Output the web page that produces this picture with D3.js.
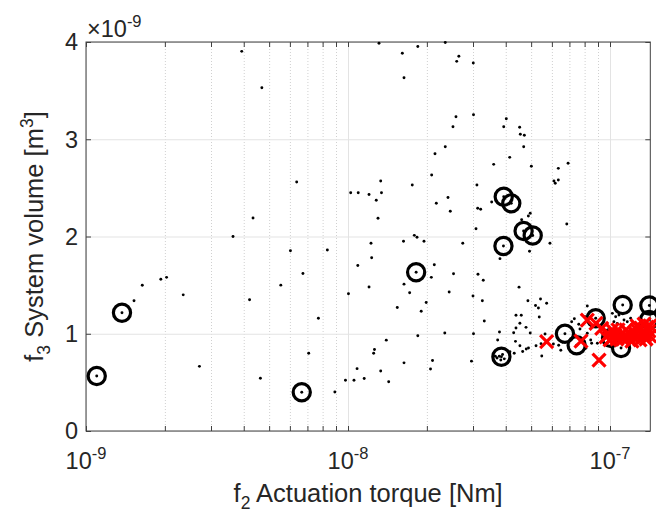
<!DOCTYPE html>
<html>
<head>
<meta charset="utf-8">
<script src="https://cdn.jsdelivr.net/npm/d3@7"></script>
<style>
  body { margin: 0; background: #fff; }
  svg { display: block; font-family: "Liberation Sans", Arial, sans-serif; }
</style>
</head>
<body>
<svg id="chart"></svg>
<script>
// torque in 1e-9 Nm, volume in 1e-9 m^3
const dotTorque = [1.525,1.64,1.93,2.03,2.35,2.71,3.64,3.93,4.21,4.34,4.63,4.69,5.54,6.03,6.37,6.73,7.08,7.71,8.34,8.91,
  9.78,10.04,10.24,10.54,10.83,10.90,10.94,11.53,12.03,12.03,12.24,12.31,12.53,12.62,12.82,13.02,13.13,13.33,13.42,13.33,
  14.0,14.3,15.42,16.12,16.29,16.36,16.36,16.36,17.19,17.59,17.91,18.34,18.47,18.47,19.03,19.5,19.88,20.65,20.8,20.86,
  21.02,21.35,21.48,21.73,23.41,23.51,23.51,24.08,24.33,24.57,25.16,25.28,25.83,26.0,26.49,27.42,29.6,30.0,30.07,30.13,
  30.13,30.8,31.05,31.26,31.34,32.09,32.57,32.83,33.13,35.35,35.98,37.26,37.86,38.02,39.3,40.2,41.42,41.5,42.89,43.1,
  43.57,43.77,43.77,44.96,45.2,45.3,45.3,45.47,45.85,46.42,46.84,47.1,47.8,47.9,48.6,48.85,48.8,49.3,49.6,49.6,
  50.1,51.97,52.2,53.3,53.7,54.3,54.55,54.9,56.5,57.3,59.0,61.1,61.8,63.5,63.5,68.4,69.2,60.8,63.7,64.9,
  65.97,71.4,73.1,76.0,76.8,81.9,102.1,105.1,108.2,113.1,116.4,119.9,103.5,106.6,125.3,81.9,84.4,89.5,80.8,80.3,
  85.1,37.8,38.9,37.05,38.3,39.5,36.5,46.0];
const dotVolume = [1.34,1.498,1.56,1.58,1.40,0.665,2.00,3.904,1.349,2.19,0.542,3.53,1.50,1.853,2.56,1.62,0.80,1.159,1.861,0.401,
  0.522,1.412,2.45,0.522,0.641,1.702,2.45,0.54,2.432,1.481,1.93,1.781,0.80,0.838,2.372,2.188,3.987,2.571,2.45,0.617,
  0.934,0.506,1.27,3.884,1.951,3.633,1.51,0.701,1.421,2.53,2.012,1.992,3.954,0.98,1.231,1.951,1.321,0.638,1.58,2.632,
  0.725,1.71,2.851,2.342,1.008,2.923,3.995,2.401,1.429,2.26,3.129,1.617,3.232,3.801,3.854,1.93,0.718,1.388,3.784,3.252,
  1.0,2.08,2.53,2.29,1.612,2.28,1.339,1.55,1.131,2.355,2.742,0.936,1.018,1.772,3.129,3.211,2.814,0.815,1.01,0.799,
  0.922,1.19,1.059,1.479,3.123,1.108,0.877,3.051,1.19,0.817,2.923,3.041,1.066,0.843,1.34,0.853,2.211,1.849,2.239,1.008,
  2.722,1.29,0.877,1.265,1.172,1.357,0.898,0.771,0.997,1.313,1.93,2.571,2.547,2.701,2.581,2.129,2.753,0.895,0.881,0.83,
  0.912,1.124,1.155,1.097,1.049,1.285,1.21,1.175,1.193,1.141,1.124,1.159,1.124,1.107,1.107,1.005,0.936,0.902,0.85,1.175,
  0.902,0.768,0.787,0.751,0.73,0.742,0.768,2.173];

const circleTorque = [1.099,1.372,6.66,18.2,39.3,42.0,46.8,50.7,39.2,38.5,67.3,74.6,88.2,111.8,141.3,140.9,100.9,110.2];
const circleVolume = [0.566,1.216,0.398,1.632,2.409,2.341,2.057,2.010,1.902,0.764,1.0,0.882,1.159,1.296,1.29,1.141,0.956,0.853];

const crossTorque = [57.3,77.5,81.9,88.4,93.0,90.8,96.6,99.1,101.8,104.5,106.3,109.2,112.1,114.1,117.1,119.2,122.4,124.6,
  126.8,129.0,131.3,133.6,136.0,138.4,140.9,141.8,115.1,107.3,100.0,121.3,130.2,137.2,101.8,126.8,134.9,142.2];
const crossVolume = [0.918,0.925,1.141,1.107,1.056,0.730,0.967,0.997,0.956,0.987,0.946,0.977,0.946,0.987,0.956,0.997,0.967,1.008,
  1.039,0.977,1.059,1.018,0.987,1.069,1.028,0.977,1.039,1.039,0.936,0.925,0.936,0.946,1.039,1.080,1.100,1.080];

const xMajor = [1, 10, 100];
const xMajorExp = ["-9", "-8", "-7"];
const yTicks = [0, 1, 2, 3, 4];

const W = 656, H = 518;
const margin = { top: 42, right: 5.7, bottom: 87, left: 86 };
const width = W - margin.left - margin.right;
const height = H - margin.top - margin.bottom;
const textColor = "#262626";

const svg = d3.select("#chart").attr("width", W).attr("height", H);
const g = svg.append("g").attr("transform", `translate(${margin.left},${margin.top})`);

const x = d3.scaleLog().domain([1, 142.5]).range([0, width]);
const y = d3.scaleLinear().domain([0, 4]).range([height, 0]);

// minor x values 2..9 in every decade
const xMinor = [];
[1, 10, 100].forEach(d => {
  for (let k = 2; k <= 9; k++) if (k * d <= 142.5) xMinor.push(k * d);
});

// grid
g.append("g")
  .attr("transform", `translate(0,${height})`)
  .call(d3.axisBottom(x).tickValues(xMinor).tickSize(-height).tickFormat(""))
  .call(s => s.select(".domain").remove())
  .selectAll("line").attr("stroke", "#d0d0d0").attr("stroke-dasharray", "1,2");
g.append("g")
  .attr("transform", `translate(0,${height})`)
  .call(d3.axisBottom(x).tickValues(xMajor).tickSize(-height).tickFormat(""))
  .call(s => s.select(".domain").remove())
  .selectAll("line").attr("stroke", "#e3e3e3");
g.append("g")
  .call(d3.axisLeft(y).tickValues(yTicks).tickSize(-width).tickFormat(""))
  .call(s => s.select(".domain").remove())
  .selectAll("line").attr("stroke", "#e3e3e3");

// inward ticks on all four sides
function ticks(axis, tr) {
  g.append("g")
    .attr("transform", tr)
    .call(axis.tickSizeOuter(0).tickFormat(""))
    .call(s => s.select(".domain").remove())
    .selectAll("line").attr("stroke", "#404040");
}
ticks(d3.axisBottom(x).tickValues(xMajor.concat(xMinor)).tickSizeInner(-5), `translate(0,${height})`);
ticks(d3.axisTop(x).tickValues(xMajor.concat(xMinor)).tickSizeInner(-5), "translate(0,0)");
ticks(d3.axisLeft(y).tickValues(yTicks).tickSizeInner(-5), "translate(0,0)");
ticks(d3.axisRight(y).tickValues(yTicks).tickSizeInner(-5), `translate(${width},0)`);

g.append("rect")
  .attr("width", width).attr("height", height)
  .attr("fill", "none").attr("stroke", "#404040").attr("stroke-width", 1);

// tick labels
const xl = g.append("g").selectAll("text").data(xMajor).enter().append("text")
  .attr("x", d => x(d)).attr("y", height + 38)
  .attr("text-anchor", "middle").attr("fill", textColor).attr("font-size", 23.5);
xl.append("tspan").text("10");
xl.append("tspan").attr("dy", -10).attr("font-size", 16.5).text((d, i) => xMajorExp[i]);

g.append("g").selectAll("text").data(yTicks).enter().append("text")
  .attr("x", -8).attr("y", d => y(d)).attr("dy", "0.36em")
  .attr("text-anchor", "end").attr("fill", textColor).attr("font-size", 23.5)
  .text(d => d);

const ex = g.append("text").attr("x", 1).attr("y", -5.5).attr("fill", textColor).attr("font-size", 23.5);
ex.append("tspan").text("\u00d710");
ex.append("tspan").attr("dy", -10).attr("font-size", 16.5).text("-9");

// axis labels
const xt = g.append("text")
  .attr("x", width / 2).attr("y", height + 71)
  .attr("text-anchor", "middle").attr("fill", textColor).attr("font-size", 25.5);
xt.append("tspan").text("f");
xt.append("tspan").attr("dy", 7).attr("font-size", 17.5).text("2");
xt.append("tspan").attr("dy", -7).text(" Actuation torque [Nm]");

const yt = g.append("text")
  .attr("transform", `translate(${-43},${height / 2}) rotate(-90)`)
  .attr("text-anchor", "middle").attr("fill", textColor).attr("font-size", 25.5);
yt.append("tspan").text("f");
yt.append("tspan").attr("dy", 7).attr("font-size", 17.5).text("3");
yt.append("tspan").attr("dy", -7).text(" System volume [m");
yt.append("tspan").attr("dy", -10).attr("font-size", 17.5).text("3");
yt.append("tspan").attr("dy", 10).text("]");

// marks
const dots = dotTorque.map((d, i) => [d, dotVolume[i]])
  .concat(circleTorque.map((d, i) => [d, circleVolume[i]]));
g.append("g").selectAll("circle").data(dots).enter().append("circle")
  .attr("cx", d => x(d[0])).attr("cy", d => y(d[1])).attr("r", 1.45).attr("fill", "#000");

g.append("g").selectAll("circle").data(circleTorque).enter().append("circle")
  .attr("cx", d => x(d)).attr("cy", (d, i) => y(circleVolume[i]))
  .attr("r", 8.6).attr("fill", "none").attr("stroke", "#000").attr("stroke-width", 3.2);

g.append("g").selectAll("path").data(crossTorque).enter().append("path")
  .attr("transform", (d, i) => `translate(${x(d)},${y(crossVolume[i])})`)
  .attr("d", "M-6.5,-6.5L6.5,6.5M-6.5,6.5L6.5,-6.5")
  .attr("stroke", "#ff0000").attr("stroke-width", 3.2).attr("fill", "none");
</script>
</body>
</html>
